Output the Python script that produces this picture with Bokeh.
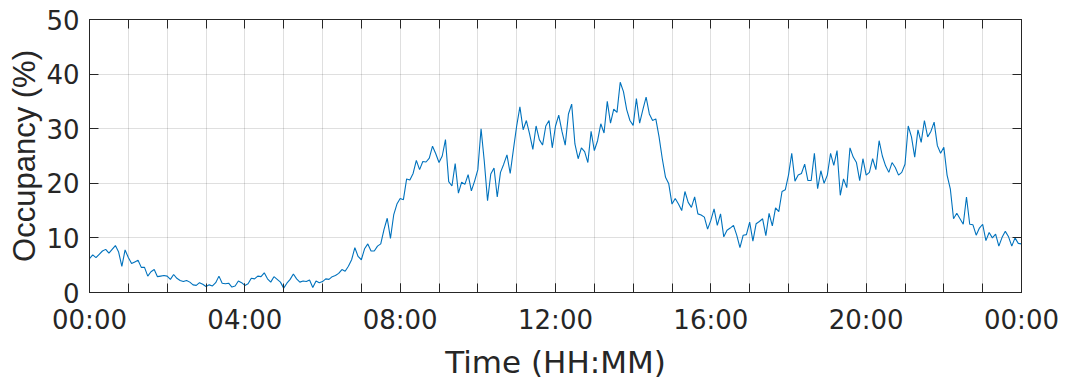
from bokeh.plotting import figure
from bokeh.models import Range1d, FixedTicker, LinearAxis
from bokeh.embed import file_html
from bokeh.resources import INLINE

# ---- data (5-minute samples, occupancy in %) ----
step_minutes = 5
occ_h00 = [6.2, 6.9, 6.4, 7.0, 7.6, 7.9, 7.2, 7.9, 8.6, 7.4, 4.8, 7.8]
occ_h01 = [6.4, 5.3, 5.6, 5.9, 4.6, 4.6, 3.0, 3.8, 4.2, 2.9, 3.0, 3.1]
occ_h02 = [3.0, 2.4, 3.3, 2.6, 2.2, 2.0, 2.2, 1.9, 1.4, 1.3, 1.8, 1.5]
occ_h03 = [1.1, 1.4, 1.2, 1.8, 3.0, 1.7, 1.6, 1.7, 1.0, 1.2, 2.1, 1.8]
occ_h04 = [1.3, 1.6, 2.6, 2.5, 3.0, 2.9, 3.6, 2.5, 1.9, 2.9, 2.4, 1.9]
occ_h05 = [0.8, 1.7, 2.4, 3.4, 2.5, 1.9, 2.1, 2.0, 2.3, 0.9, 2.1, 1.8]
occ_h06 = [2.0, 2.5, 2.4, 2.9, 3.1, 3.5, 4.2, 3.9, 4.8, 6.0, 8.2, 6.6]
occ_h07 = [6.0, 8.0, 8.9, 7.6, 7.6, 8.5, 8.9, 11.5, 13.6, 9.9, 14.2, 16.2]
occ_h08 = [17.2, 17.0, 20.8, 20.6, 21.8, 24.2, 22.5, 24.0, 23.9, 24.6, 26.8, 25.4]
occ_h09 = [23.8, 25.0, 28.0, 20.3, 19.5, 23.6, 18.2, 20.2, 19.8, 21.6, 18.6, 20.4]
occ_h10 = [22.5, 30.0, 24.0, 16.8, 21.7, 22.8, 17.5, 22.0, 23.5, 25.2, 21.8, 26.2]
occ_h11 = [30.5, 34.0, 29.8, 31.5, 29.0, 26.2, 30.5, 28.0, 27.0, 30.5, 31.5, 26.5]
occ_h12 = [30.5, 32.5, 29.5, 27.0, 32.7, 34.5, 27.2, 24.5, 26.5, 25.8, 23.8, 29.5]
occ_h13 = [26.0, 27.8, 30.9, 29.2, 35.0, 31.0, 33.6, 33.0, 38.5, 36.8, 33.5, 31.5]
occ_h14 = [30.6, 35.5, 31.0, 33.5, 35.8, 32.7, 31.5, 31.8, 28.5, 24.5, 21.1, 19.9]
occ_h15 = [16.2, 17.2, 16.2, 15.0, 18.5, 16.5, 15.6, 17.5, 14.4, 14.2, 13.8, 11.6]
occ_h16 = [13.2, 15.3, 12.3, 14.4, 10.2, 11.4, 11.8, 12.3, 10.5, 8.2, 10.5, 10.6]
occ_h17 = [12.9, 9.4, 12.6, 13.0, 13.5, 10.4, 14.5, 12.2, 15.5, 14.8, 18.5, 18.8]
occ_h18 = [21.5, 25.5, 20.4, 21.5, 21.8, 23.5, 20.5, 20.5, 25.5, 19.0, 22.3, 20.0]
occ_h19 = [21.5, 25.5, 23.3, 26.0, 17.8, 20.8, 19.2, 26.5, 24.8, 23.8, 20.5, 24.5]
occ_h20 = [21.5, 22.0, 24.5, 22.5, 27.8, 25.0, 23.2, 22.0, 23.8, 22.9, 21.5, 22.0]
occ_h21 = [23.5, 30.5, 28.5, 24.8, 29.8, 27.5, 31.5, 28.5, 29.5, 31.2, 26.9, 25.5]
occ_h22 = [26.6, 21.5, 19.0, 13.5, 14.5, 13.5, 12.5, 17.5, 12.5, 12.4, 10.5, 11.8]
occ_h23 = [12.5, 9.5, 11.0, 10.0, 10.7, 8.5, 10.1, 11.2, 10.2, 8.5, 10.0, 9.0]
occ_end = [8.9]

occupancy = (occ_h00 + occ_h01 + occ_h02 + occ_h03 + occ_h04 + occ_h05 + occ_h06 + occ_h07
             + occ_h08 + occ_h09 + occ_h10 + occ_h11 + occ_h12 + occ_h13 + occ_h14 + occ_h15
             + occ_h16 + occ_h17 + occ_h18 + occ_h19 + occ_h20 + occ_h21 + occ_h22 + occ_h23
             + occ_end)
hours = [i * step_minutes / 60.0 for i in range(len(occupancy))]

hour_ticks = list(range(0, 25))
x_label_ticks = [0, 4, 8, 12, 16, 20, 24]
x_tick_labels = ["00:00", "04:00", "08:00", "12:00", "16:00", "20:00", "00:00"]
y_ticks = [0, 10, 20, 30, 40, 50]

# ---- styling ----
TICK_FONT = "DejaVu Sans"
LABEL_FONT_X = "DejaVu Sans"
LABEL_FONT_Y = "Liberation Sans"
DARK = "#262626"
LINE = "#0072BD"

p = figure(width=1068, height=383, output_backend="svg", toolbar_location=None,
           x_range=Range1d(0, 24), y_range=Range1d(0, 50),
           min_border_left=89, min_border_right=47, min_border_top=19, min_border_bottom=91,
           background_fill_color="white", border_fill_color="white")
p.outline_line_color = DARK
p.outline_line_width = 1

p.line(hours, occupancy, line_color=LINE, line_width=1.1)


def style_axis(ax):
    ax.axis_line_color = DARK
    ax.axis_line_width = 1
    ax.major_tick_line_color = DARK
    ax.major_tick_line_width = 1
    ax.major_tick_in = 9
    ax.major_tick_out = 0
    ax.minor_tick_line_color = DARK
    ax.minor_tick_line_width = 1
    ax.minor_tick_in = 9
    ax.minor_tick_out = 0
    ax.major_label_text_font = TICK_FONT
    ax.major_label_text_color = DARK
    ax.major_label_text_font_size = "26px"
    ax.axis_label_text_color = DARK
    ax.axis_label_text_font_style = "normal"


xa = p.xaxis[0]
style_axis(xa)
xa.ticker = FixedTicker(ticks=x_label_ticks, minor_ticks=hour_ticks)
xa.major_label_overrides = dict(zip(x_label_ticks, x_tick_labels))
xa.major_label_standoff = 12
xa.axis_label = "Time (HH:MM)"
xa.axis_label_text_font = LABEL_FONT_X
xa.axis_label_text_font_size = "31px"
xa.axis_label_standoff = 6

ya = p.yaxis[0]
style_axis(ya)
ya.ticker = FixedTicker(ticks=y_ticks)
ya.major_label_standoff = 10
ya.axis_label = "Occupancy (%)"
ya.axis_label_text_font = LABEL_FONT_Y
ya.axis_label_text_font_size = "31px"
ya.axis_label_standoff = 1

top = LinearAxis()
style_axis(top)
top.ticker = FixedTicker(ticks=[], minor_ticks=hour_ticks)
top.major_label_standoff = 0
p.add_layout(top, "above")

right = LinearAxis()
style_axis(right)
right.ticker = FixedTicker(ticks=[], minor_ticks=y_ticks)
right.major_label_standoff = 0
p.add_layout(right, "right")

p.xgrid.ticker = FixedTicker(ticks=hour_ticks)
p.ygrid.ticker = FixedTicker(ticks=y_ticks)
p.xgrid.grid_line_color = DARK
p.ygrid.grid_line_color = DARK
p.xgrid.grid_line_alpha = 0.15
p.ygrid.grid_line_alpha = 0.15

open("out.html", "w").write(file_html(p, INLINE))
